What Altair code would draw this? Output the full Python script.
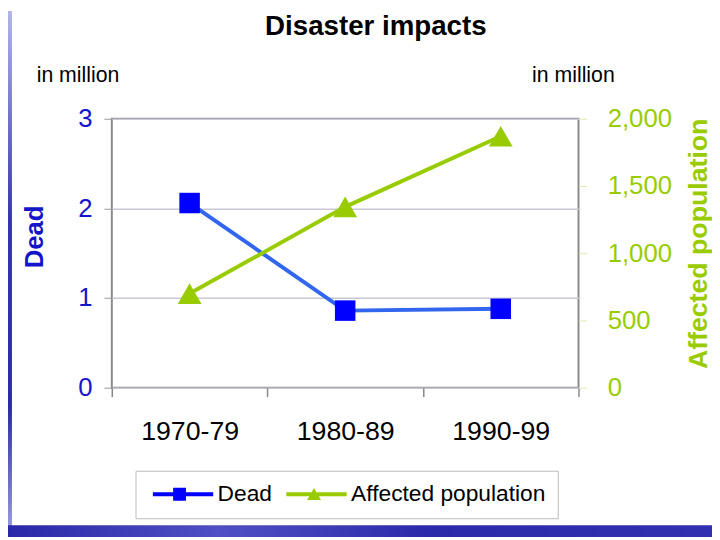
import altair as alt
import pandas as pd

periods = ["1970-79", "1980-89", "1990-99"]
dead = [2.06, 0.86, 0.88]
affected = [700, 1345, 1870]
series = ["Dead", "Affected population"]
dead_ticks = [0, 0.5, 1, 1.5, 2, 2.5, 3]
affected_ticks = [0, 500, 1000, 1500, 2000]
unit_labels = ["in million"]
chart_title = ["Disaster impacts"]

df = pd.DataFrame({"period": periods, "dead": dead, "affected": affected})
legend_df = pd.DataFrame({"series": series})
unit_df = pd.DataFrame({"label": unit_labels})
title_df = pd.DataFrame({"label": chart_title})
deco_df = pd.DataFrame({"k": [0]})

FONT = "Liberation Sans"
BLUE_TXT = "#1414C8"
GREEN = "#99CC00"
LINE_BLUE = "#3366EE"
MARK_BLUE = "#0000FF"

dead_path = "M-1,-0.33H9.17V0.33H-1Z M2.42,-1.08H4.58V1.08H2.42Z"
aff_path = "M-1,-0.33H9.17V0.33H-1Z M3.67,-1.05L4.85,0.95L2.49,0.95Z"

x_enc = alt.X(
    "period:N",
    sort=periods,
    scale=alt.Scale(type="band", paddingInner=0, paddingOuter=0),
    axis=alt.Axis(title=None, labelAngle=0, labelFontSize=27, labelColor="black",
                  labelFont=FONT, labelPadding=22, tickBand="extent", tickSize=9,
                  tickColor="#888888", tickWidth=1.5, domain=False, grid=False),
)

y_dead = alt.Y(
    "dead:Q",
    scale=alt.Scale(domain=[0, 3], nice=False),
    axis=alt.Axis(values=dead_ticks, orient="left", format="d",
                  labelExpr="datum.value % 1 === 0 ? datum.label : ''",
                  tickOpacity={"condition": {"test": "datum.value % 1 === 0", "value": 1}, "value": 0},
                  title="Dead", titleColor=BLUE_TXT, titleFontSize=26, titleFontWeight="bold",
                  titleFont=FONT, titleAngle=270, titleAlign="center", titleBaseline="middle",
                  titleX=-78, titleY=119,
                  labelFontSize=26, labelFont=FONT, labelColor=BLUE_TXT, labelPadding=12,
                  tickSize=8, tickColor="#999999", grid=True, gridColor="#C8C8D4",
                  gridWidth=1.5, domain=False),
)

y_aff = alt.Y(
    "affected:Q",
    scale=alt.Scale(domain=[0, 2000], nice=False),
    axis=alt.Axis(values=affected_ticks, format=",d", orient="right",
                  title="Affected population", titleColor=GREEN, titleFontSize=27,
                  titleFontWeight="bold", titleFont=FONT, titleAngle=270,
                  titleAlign="center", titleBaseline="middle", titleX=121, titleY=126,
                  labelFontSize=26, labelFont=FONT, labelColor=GREEN, labelPadding=21,
                  tickSize=8, tickColor="#DDE8B0", grid=False, domain=False),
)

base = alt.Chart(df)

dead_line = base.mark_line(color=LINE_BLUE, strokeWidth=4).encode(x=x_enc, y=y_dead)
dead_pts = base.mark_point(shape="square", filled=True, color=MARK_BLUE, size=430,
                           opacity=1).encode(x=x_enc, y=y_dead)
aff_line = base.mark_line(color=GREEN, strokeWidth=4).encode(x=x_enc, y=y_aff)
aff_pts = base.mark_point(shape="triangle-up", filled=True, color=GREEN, size=580,
                          opacity=1).encode(x=x_enc, y=y_aff)

leg = alt.Legend(title=None, orient="none", legendX=24, legendY=356, direction="horizontal",
                 symbolSize=144, symbolStrokeWidth=0, symbolOpacity=1,
                 labelFontSize=23, labelFont=FONT, labelColor="black", labelOffset=48,
                 labelLimit=400, columnPadding=9, padding=12, strokeColor="#BBBBBB",
                 fillColor="white")

legend_layer = alt.Chart(legend_df).mark_point(filled=True, opacity=0, size=144).encode(
    color=alt.Color("series:N", sort=series,
                    scale=alt.Scale(domain=series, range=[MARK_BLUE, GREEN]), legend=leg),
    shape=alt.Shape("series:N", sort=series,
                    scale=alt.Scale(domain=series, range=[dead_path, aff_path]), legend=leg),
)

title_text = alt.Chart(title_df).mark_text(align="center", baseline="alphabetic", fontSize=28,
                                           fontWeight="bold", font=FONT, color="black").encode(
    text="label:N", x=alt.value(267), y=alt.value(-85))
left_unit = alt.Chart(unit_df).mark_text(align="left", baseline="alphabetic", fontSize=21.5,
                                         font=FONT, color="black").encode(
    text="label:N", x=alt.value(-76), y=alt.value(-37))
right_unit = alt.Chart(unit_df).mark_text(align="left", baseline="alphabetic", fontSize=21.5,
                                          font=FONT, color="black").encode(
    text="label:N", x=alt.value(425), y=alt.value(-37))

deco_left = alt.Chart(deco_df).mark_rect(
    color=alt.LinearGradient(gradient="linear", x1=0, x2=0, y1=0, y2=1, stops=[
        alt.GradientStop(color="#B4B4EA", offset=0),
        alt.GradientStop(color="#3434B4", offset=0.4),
        alt.GradientStop(color="#2A2AAA", offset=0.75),
        alt.GradientStop(color="#A0A0E0", offset=1)])
).encode(x=alt.value(-105), x2=alt.value(-101), y=alt.value(-109), y2=alt.value(423))

deco_bottom = alt.Chart(deco_df).mark_rect(
    color=alt.LinearGradient(gradient="linear", x1=0, x2=1, y1=0, y2=0, stops=[
        alt.GradientStop(color="#2828A8", offset=0),
        alt.GradientStop(color="#5050C4", offset=0.3),
        alt.GradientStop(color="#2A2AAA", offset=0.6),
        alt.GradientStop(color="#3030B0", offset=1)])
).encode(x=alt.value(-105), x2=alt.value(607), y=alt.value(411), y2=alt.value(423))

left_layer = alt.layer(deco_left, deco_bottom, title_text, left_unit, right_unit,
                       dead_line, dead_pts, legend_layer)
right_layer = alt.layer(aff_line, aff_pts)

chart = alt.layer(left_layer, right_layer).resolve_scale(y="independent").properties(
    width=472, height=272,
    autosize=alt.AutoSizeParams(type="none"),
    padding={"left": 105, "top": 109, "right": 135, "bottom": 151},
    background="white",
).configure_view(stroke="#8A8A8A", strokeWidth=2)

chart.save("out.html", embed_options={"renderer": "svg", "actions": False})
